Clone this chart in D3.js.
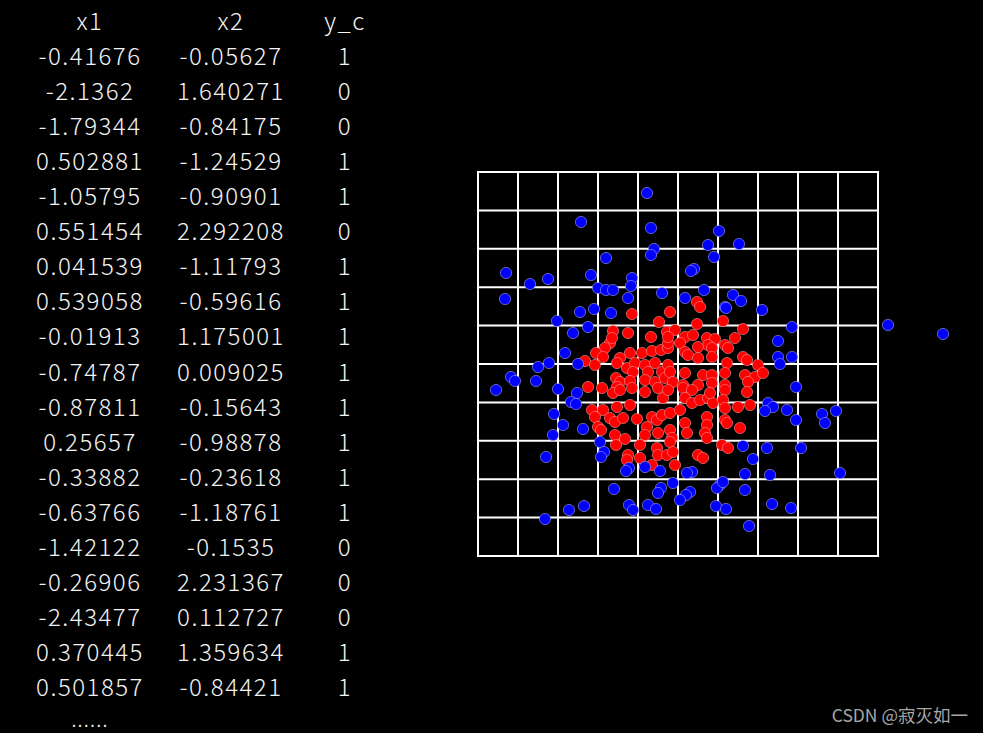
<!DOCTYPE html>
<html>
<head>
<meta charset="utf-8">
<script src="https://cdn.jsdelivr.net/npm/d3@7/dist/d3.min.js"></script>
<style>
html,body{margin:0;padding:0;background:#000;}
svg{display:block;}
</style>
</head>
<body>
<svg id="chart" width="983" height="733"></svg>
<script>
// ---- table data ----
const tableHeaders = ["x1", "x2", "y_c"];
const colX1 = ["-0.41676","-2.1362","-1.79344","0.502881","-1.05795","0.551454","0.041539","0.539058","-0.01913","-0.74787","-0.87811","0.25657","-0.33882","-0.63766","-1.42122","-0.26906","-2.43477","0.370445","0.501857"];
const colX2 = ["-0.05627","1.640271","-0.84175","-1.24529","-0.90901","2.292208","-1.11793","-0.59616","1.175001","0.009025","-0.15643","-0.98878","-0.23618","-1.18761","-0.1535","2.231367","0.112727","1.359634","-0.84421"];
const colYc = ["1","0","0","1","1","0","1","1","1","1","1","1","1","1","0","0","0","1","1"];

// ---- scatter data: class 0 (blue) ----
const blueX1 = [-0.97,-0.72,-1.72,-1.48,-1.30,-0.87,-0.46,-0.47,-0.80,-0.72,-0.65,-1.73,-0.50,-0.98,-0.84,-0.67,-1.21,-0.90,-1.05,-1.13,-1.29,-1.40,-1.00,-1.67,-1.63,-1.82,-1.42,-1.20,-1.01,-1.07,-1.02,-1.24,-1.15,-0.95,-1.25,-0.78,-0.74,-0.77,-1.32,-0.49,-0.52,-0.64,-0.49,-0.45,-0.94,-1.09,-1.33,-0.31,-0.27,0.41,0.30,0.61,-0.24,-0.27,0.36,0.16,0.13,-0.16,0.07,0.26,0.55,0.63,0.47,0.48,0.84,1.14,1.00,1.00,1.14,1.02,1.18,0.90,0.95,0.87,1.09,1.18,1.44,1.47,1.58,1.23,1.62,2.10,2.65,0.65,0.89,0.75,0.67,0.92,0.14,0.09,-0.05,0.42,0.39,0.12,0.67,-0.33,-0.18,-0.17,-0.20,0.08,0.02,0.45,-0.30,-0.22,0.38,0.48,0.94,1.13,0.71];
const blueX2 = [1.42,1.06,0.91,0.80,0.85,0.89,0.86,0.78,0.76,0.74,0.74,0.65,0.66,0.52,0.55,0.51,0.43,0.37,0.31,0.11,0.01,-0.03,0.00,-0.13,-0.17,-0.26,-0.17,-0.25,-0.29,-0.38,-0.40,-0.50,-0.61,-0.65,-0.71,-0.78,-0.88,-0.93,-0.93,-1.04,-1.07,-1.25,-1.41,-1.46,-1.42,-1.46,-1.55,1.71,1.36,1.33,1.19,1.20,1.15,1.09,1.07,0.95,0.93,0.71,0.66,0.74,0.69,0.63,0.57,0.56,0.54,0.37,0.23,0.07,0.07,0.00,-0.23,-0.39,-0.43,-0.47,-0.46,-0.56,-0.50,-0.59,-0.47,-0.84,-1.09,0.39,0.30,-0.82,-0.84,-0.95,-1.10,-1.11,-1.08,-1.09,-1.19,-1.21,-1.24,-1.28,-1.26,-1.03,-1.07,-1.24,-1.29,-1.31,-1.36,-1.18,-1.41,-1.45,-1.42,-1.45,-1.40,-1.44,-1.62];

// ---- scatter data: class 1 (red) ----
const redX1 = [-0.46,-0.65,-0.50,-0.68,-0.73,-0.82,-0.75,-0.48,-0.58,-0.93,-0.19,-0.27,-0.11,-0.66,-0.36,-0.26,-0.17,-0.10,-0.83,-0.61,-0.51,-0.43,-0.45,-0.33,-0.23,-0.16,-0.30,-0.62,-0.58,-0.48,-0.33,-0.23,-0.13,-0.90,-0.76,-0.61,0.19,0.22,-0.08,0.19,0.45,0.65,0.57,-0.03,0.07,0.15,0.29,0.37,0.02,0.30,0.34,-0.10,0.07,0.10,0.47,0.50,0.20,0.34,0.20,0.65,0.69,0.49,0.80,-0.10,-0.08,0.07,-0.05,0.05,0.25,0.34,0.20,0.47,0.67,0.77,0.85,0.70,0.47,0.34,-0.10,-0.65,-0.58,-0.46,-0.33,-0.20,-0.15,-0.86,-0.75,-0.83,-0.61,-0.48,-0.68,-0.63,-0.55,-0.41,-0.26,-0.21,-0.16,-0.31,-0.80,-0.63,-0.53,-0.33,-0.20,-0.38,-0.21,-0.20,-0.50,-0.51,-0.38,-0.26,-0.77,-0.62,-0.10,0.05,0.14,0.47,0.69,0.07,0.14,0.22,0.30,0.35,0.45,0.47,0.60,0.72,-0.08,0.02,0.07,0.29,0.29,0.47,0.49,0.62,-0.08,-0.06,0.09,0.27,0.29,0.44,0.50,0.20,0.25,-0.03,-0.11,0.32,-0.08,-0.05];
const redX2 = [0.50,0.33,0.31,0.21,0.16,0.11,0.07,0.11,0.06,0.03,0.42,0.27,0.32,0.26,0.11,0.13,0.14,0.16,-0.01,0.01,-0.04,0.01,-0.08,-0.01,0.01,-0.08,-0.08,-0.14,-0.18,-0.17,-0.16,-0.18,-0.14,-0.23,-0.24,-0.23,0.62,0.57,0.52,0.40,0.43,0.35,0.26,0.34,0.27,0.29,0.26,0.25,0.21,0.19,0.16,0.21,0.12,0.09,0.19,0.16,0.17,0.07,0.06,0.07,0.04,0.01,-0.01,-0.01,-0.08,-0.09,-0.18,-0.21,-0.11,-0.11,-0.21,-0.09,-0.11,-0.13,-0.09,-0.18,-0.21,-0.19,0.27,-0.29,-0.26,-0.24,-0.28,-0.24,-0.34,-0.46,-0.46,-0.53,-0.43,-0.41,-0.54,-0.58,-0.54,-0.55,-0.53,-0.56,-0.51,-0.63,-0.63,-0.71,-0.75,-0.71,-0.69,-0.81,-0.84,-0.91,-0.91,-0.96,-0.94,-1.01,-0.66,-0.81,-0.26,-0.24,-0.26,-0.26,-0.28,-0.34,-0.39,-0.36,-0.34,-0.39,-0.36,-0.44,-0.43,-0.41,-0.49,-0.46,-0.59,-0.53,-0.61,-0.56,-0.59,-0.64,-0.66,-0.74,-0.69,-0.69,-0.74,-0.81,-0.84,-0.91,-0.94,-1.01,-0.91,-0.29,-0.78,-0.88];

const svg = d3.select("#chart");
svg.append("rect").attr("width", 983).attr("height", 733).attr("fill", "#000");

// ---- table ----
const colCenters = [90, 231, 345];
const rowY = d3.scaleLinear().domain([0, 1]).range([19, 54.1]);
const tableFont = "'Noto Sans CJK SC', 'Noto Sans', sans-serif";
const tg = svg.append("g").attr("fill", "#f4f4f4").attr("font-family", tableFont).attr("font-size", 24)
  .attr("font-weight", 300).attr("letter-spacing", 1.5)
  .attr("text-anchor", "middle").attr("dominant-baseline", "central");
tableHeaders.forEach((h, i) => tg.append("text").attr("x", colCenters[i]).attr("y", rowY(0)).text(h));
[colX1, colX2, colYc].forEach((col, ci) => {
  col.forEach((v, ri) => tg.append("text").attr("x", colCenters[ci]).attr("y", rowY(ri + 1)).text(v));
});
tg.append("text").attr("x", colCenters[0]).attr("y", 718.5).attr("font-size", 20).attr("letter-spacing", 1.2).text("......");

// ---- scatter ----
const x = d3.scaleLinear().domain([-2, 2]).range([478, 878]);
const y = d3.scaleLinear().domain([-1.92, 1.92]).range([556, 172]);
const nDiv = 10;
const xGrid = d3.range(nDiv + 1).map(i => -2 + i * 0.4);
const yGrid = d3.range(nDiv + 1).map(i => -1.92 + i * 0.384);

const grid = svg.append("g").attr("stroke", "#fff").attr("stroke-width", 2);
grid.selectAll("line.v").data(xGrid).join("line").attr("class", "v")
  .attr("x1", d => x(d)).attr("x2", d => x(d)).attr("y1", y(-1.92)).attr("y2", y(1.92));
grid.selectAll("line.h").data(yGrid).join("line").attr("class", "h")
  .attr("y1", d => y(d)).attr("y2", d => y(d)).attr("x1", x(-2) - 1).attr("x2", x(2) + 1);

const redPts = redX1.map((v, i) => [v, redX2[i]]);
const bluePts = blueX1.map((v, i) => [v, blueX2[i]]);

svg.append("g").selectAll("circle").data(redPts).join("circle")
  .attr("cx", d => x(d[0])).attr("cy", d => y(d[1])).attr("r", 5.6)
  .attr("fill", "#ff0000").attr("stroke", "#ff9090").attr("stroke-width", 0.6);
svg.append("g").selectAll("circle").data(bluePts).join("circle")
  .attr("cx", d => x(d[0])).attr("cy", d => y(d[1])).attr("r", 5.6)
  .attr("fill", "#0000ff").attr("stroke", "#a0a0ff").attr("stroke-width", 0.6);

// ---- watermark ----
svg.append("text").attr("x", 968).attr("y", 714).attr("text-anchor", "end")
  .attr("dominant-baseline", "central")
  .attr("font-family", tableFont).attr("font-size", 17.5).attr("fill", "#a6a6a6")
  .text("CSDN @寂灭如一");
</script>
</body>
</html>
